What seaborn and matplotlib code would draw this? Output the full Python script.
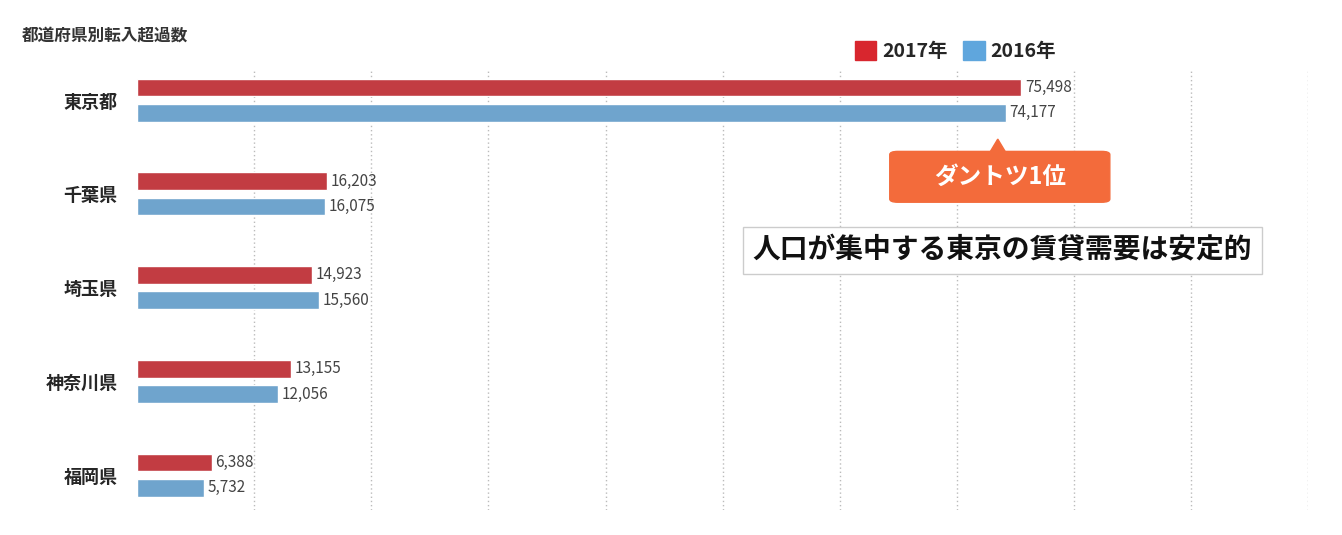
import pandas as pd
import matplotlib.pyplot as plt
import matplotlib.patches as mpatches
import seaborn as sns

prefs = ['東京都', '千葉県', '埼玉県', '神奈川県', '福岡県']
v2017 = [75498, 16203, 14923, 13155, 6388]
v2016 = [74177, 16075, 15560, 12056, 5732]
years = ['2017年', '2016年']

df = pd.DataFrame({
    'pref': prefs * 2,
    'value': v2017 + v2016,
    'year': [years[0]] * len(prefs) + [years[1]] * len(prefs),
})

sns.set_style('white')
plt.rcParams['font.family'] = ['Noto Sans CJK JP', 'DejaVu Sans']

red = '#d8262e'
blue = '#5fa6dd'

fig = plt.figure(figsize=(13.42, 5.35), dpi=100)
ax = fig.add_axes([0.102, 0.047, 0.873, 0.822])
sns.barplot(data=df, x='value', y='pref', hue='year', orient='h',
            palette=[red, blue], width=0.54, gap=0.3, legend=False, ax=ax)

ax.set_xlim(0, 100000)
ax.set_ylim(4.37, -0.32)
ax.set_xticks(range(10000, 100001, 10000))
ax.xaxis.grid(True, linestyle=(0, (1, 2)), color='#bbbbbb', linewidth=1)
ax.set_xticklabels([])
ax.tick_params(axis='x', length=0)
ax.tick_params(axis='y', length=0, labelsize=13, pad=14)
for t in ax.get_yticklabels():
    t.set_fontweight('bold')
ax.set_xlabel('')
ax.set_ylabel('')
for s in ax.spines.values():
    s.set_visible(False)

for cont in ax.containers:
    for bar in cont:
        w = bar.get_width()
        ax.text(w + 300, bar.get_y() + bar.get_height() / 2, f'{int(w):,}',
                va='center', ha='left', fontsize=11, color='#444444')

fig.text(0.016, 0.925, '都道府県別転入超過数', fontsize=12, fontweight='bold', color='#333333')

# legend
handles = [mpatches.Patch(color=red, label=years[0]), mpatches.Patch(color=blue, label=years[1])]
fig.legend(handles=handles, loc='center', bbox_to_anchor=(0.712, 0.905), ncol=2, frameon=False,
           prop={'size': 14, 'weight': 'bold'}, handlelength=1.1, handleheight=1.1,
           handletextpad=0.3, columnspacing=0.8)

# callout
fig.patches.append(mpatches.FancyBboxPatch((0.663, 0.622), 0.164, 0.095,
                   boxstyle='round,pad=0,rounding_size=0.006', transform=fig.transFigure,
                   color='#f36b3b'))
fig.patches.append(mpatches.Polygon([[0.738, 0.717], [0.749, 0.717], [0.7435, 0.74]],
                   closed=True, transform=fig.transFigure, color='#f36b3b'))
fig.text(0.745, 0.669, 'ダントツ1位', ha='center', va='center', fontsize=17,
         fontweight='bold', color='white')
fig.text(0.747, 0.532, '人口が集中する東京の賃貸需要は安定的', ha='center', va='center',
         fontsize=20, fontweight='bold', color='#111111',
         bbox=dict(boxstyle='square,pad=0.35', facecolor='white', edgecolor='#cccccc'))

fig.savefig('out.png', dpi=100)
